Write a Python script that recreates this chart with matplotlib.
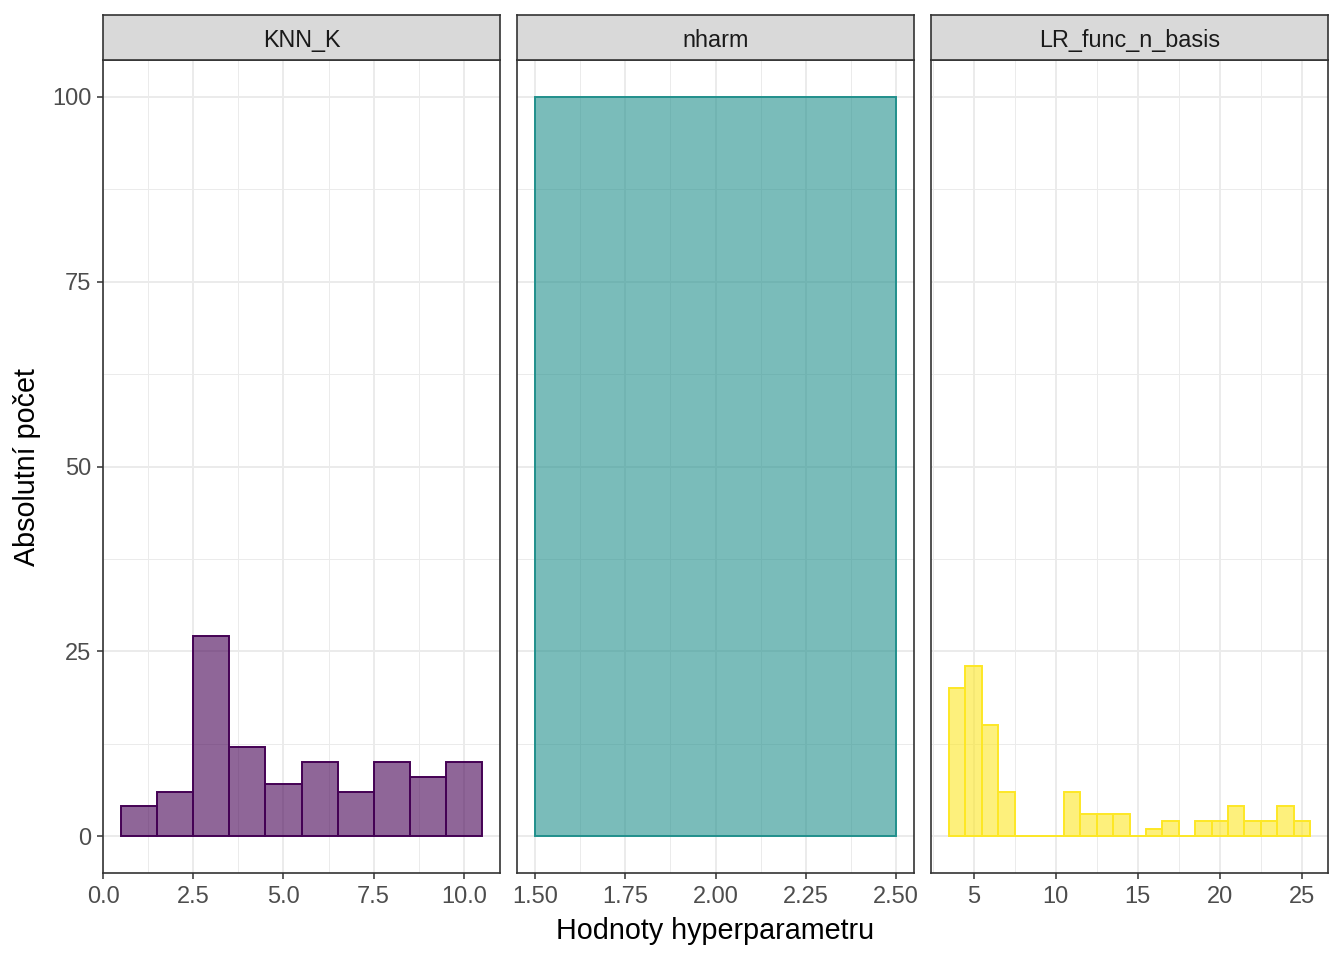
import matplotlib
matplotlib.use("Agg")
import matplotlib.pyplot as plt
import numpy as np

plt.rcParams['font.family'] = ['Liberation Sans', 'DejaVu Sans']

panel_titles = ["KNN_K", "nharm", "LR_func_n_basis"]
colors = ["#440154", "#21908C", "#FDE725"]

knn_centers = [1, 2, 3, 4, 5, 6, 7, 8, 9, 10]
knn_counts = [4, 6, 27, 12, 7, 10, 6, 10, 8, 10]

nharm_centers = [2]
nharm_counts = [100]

lr_centers = list(range(4, 26))
lr_counts = [20, 23, 15, 6, 0, 0, 0, 6, 3, 3, 3, 0, 1, 2, 0, 2, 2, 4, 2, 2, 4, 2]

bin_widths = [1, 1, 1]

xlims = [(0, 11), (1.45, 2.55), (2.4, 26.6)]
xmajor = [[0, 2.5, 5, 7.5, 10], [1.5, 1.75, 2.0, 2.25, 2.5], [5, 10, 15, 20, 25]]
xlabels = [["0.0", "2.5", "5.0", "7.5", "10.0"], ["1.50", "1.75", "2.00", "2.25", "2.50"],
           ["5", "10", "15", "20", "25"]]
xminor = [[1.25, 3.75, 6.25, 8.75], [1.625, 1.875, 2.125, 2.375], [2.5, 7.5, 12.5, 17.5, 22.5]]
ymajor = [0, 25, 50, 75, 100]
yminor = [12.5, 37.5, 62.5, 87.5]

data = [(knn_centers, knn_counts), (nharm_centers, nharm_counts), (lr_centers, lr_counts)]

W, H = 1344, 960
fig = plt.figure(figsize=(W / 100, H / 100), dpi=100)
fig.patch.set_facecolor("white")

panel_x = [(103, 500), (517, 914), (931, 1328)]
ptop, pbot = 60, 873
stop = 15

for i in range(3):
    x0, x1 = panel_x[i]
    ax = fig.add_axes([x0 / W, 1 - pbot / H, (x1 - x0) / W, (pbot - ptop) / H])
    ax.set_xlim(*xlims[i])
    ax.set_ylim(-5, 105)
    for v in xminor[i]:
        ax.axvline(v, color="#EBEBEB", lw=0.7, zorder=0)
    for v in yminor:
        ax.axhline(v, color="#EBEBEB", lw=0.7, zorder=0)
    for v in xmajor[i]:
        ax.axvline(v, color="#EBEBEB", lw=1.4, zorder=0)
    for v in ymajor:
        ax.axhline(v, color="#EBEBEB", lw=1.4, zorder=0)
    c, h = data[i]
    ax.bar(c, h, width=bin_widths[i], color=colors[i], alpha=0.6, edgecolor="none", zorder=2)
    ax.bar(c, h, width=bin_widths[i], facecolor="none", edgecolor=colors[i], lw=1.4, zorder=3)
    ax.set_xticks(xmajor[i])
    ax.set_xticklabels(xlabels[i])
    ax.set_yticks(ymajor)
    if i == 0:
        ax.set_yticklabels([str(v) for v in ymajor])
    else:
        ax.tick_params(axis="y", left=False, labelleft=False)
    ax.tick_params(axis="both", length=4.5, width=1.1, color="#333333", labelcolor="#4D4D4D",
                   labelsize=17)
    ax.tick_params(axis="x", pad=5)
    ax.tick_params(axis="y", pad=4)
    for s in ax.spines.values():
        s.set_color("#333333")
        s.set_linewidth(1.2)
    # strip
    sax = fig.add_axes([x0 / W, 1 - ptop / H, (x1 - x0) / W, (ptop - stop) / H])
    sax.set_facecolor("#D9D9D9")
    sax.set_xticks([]); sax.set_yticks([])
    for s in sax.spines.values():
        s.set_color("#333333")
        s.set_linewidth(1.2)
    sax.text(0.5, 0.44, panel_titles[i], ha="center", va="center", fontsize=16.8,
             color="#1A1A1A", transform=sax.transAxes)

fig.text(715 / W, 1 - 931 / H, "Hodnoty hyperparametru", ha="center", va="center", fontsize=20.7)
fig.text(27 / W, 1 - 467 / H, "Absolutní počet", ha="center", va="center", fontsize=20.7, rotation=90)

fig.savefig("out.png", dpi=100)
